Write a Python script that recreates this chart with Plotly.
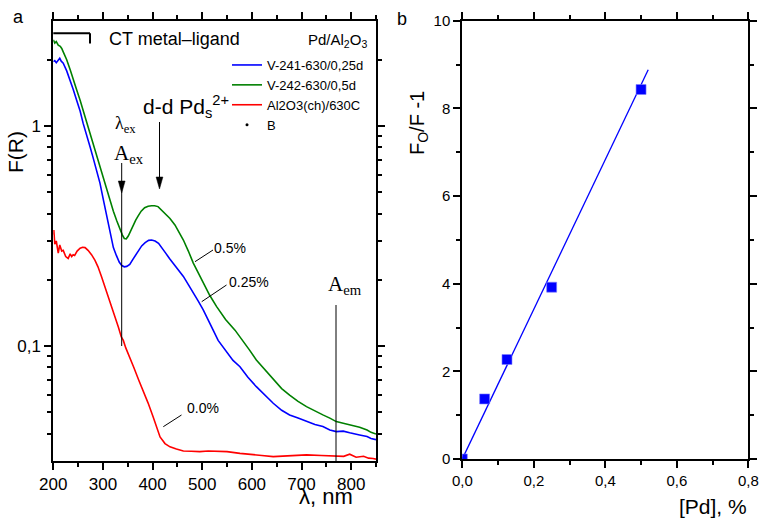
import plotly.graph_objects as go

# ---------------- data: panel a (diffuse reflectance, F(R)) ----------------
wl_blue = [200, 203, 206, 210, 213, 216, 220, 227, 234, 240, 247, 254, 260, 267, 274, 280, 287, 294,
           301, 307, 314, 321, 327, 333, 338, 343, 348, 354, 360, 366, 372, 378, 385, 392, 398, 405,
           412, 419, 426, 434, 442, 452, 462, 472, 482, 492, 502, 512, 522, 532, 547, 562, 576, 592,
           609, 626, 643, 660, 676, 693, 710, 727, 743, 757, 770, 784, 797, 807, 817, 832, 840, 850]
f_blue = [1.96, 1.98, 1.94, 2.0, 2.03, 1.97, 1.93, 1.78, 1.62, 1.47, 1.31, 1.17, 1.03, 0.92, 0.805,
          0.72, 0.63, 0.55, 0.46, 0.40, 0.335, 0.28, 0.258, 0.24, 0.232, 0.229, 0.230, 0.235, 0.247,
          0.258, 0.272, 0.285, 0.295, 0.302, 0.303, 0.300, 0.293, 0.280, 0.265, 0.25, 0.236, 0.22,
          0.207, 0.19, 0.173, 0.16, 0.146, 0.132, 0.118, 0.106, 0.095, 0.086, 0.0805, 0.072, 0.0653,
          0.060, 0.0549, 0.051, 0.0486, 0.047, 0.0453, 0.044, 0.043, 0.0415, 0.0408, 0.041, 0.0403,
          0.040, 0.0394, 0.0388, 0.038, 0.0375]

wl_green = [200, 203, 206, 210, 214, 217, 220, 227, 234, 240, 247, 254, 260, 267, 274, 280, 287, 294,
            301, 307, 314, 321, 328, 334, 339, 343, 347, 351, 356, 361, 366, 371, 377, 384, 391, 398,
            404, 411, 418, 426, 435, 445, 453, 462, 472, 482, 492, 502, 515, 529, 547, 566, 582, 595,
            609, 626, 643, 660, 676, 693, 710, 727, 743, 757, 770, 784, 797, 807, 817, 832, 840, 850]
f_green = [2.46, 2.38, 2.42, 2.33, 2.30, 2.25, 2.17, 2.0, 1.80, 1.62, 1.46, 1.31, 1.18, 1.05, 0.926,
           0.82, 0.725, 0.64, 0.567, 0.51, 0.46, 0.41, 0.37, 0.34, 0.32, 0.308, 0.307, 0.316, 0.335,
           0.355, 0.373, 0.39, 0.41, 0.425, 0.432, 0.434, 0.434, 0.430, 0.415, 0.40, 0.38, 0.355, 0.33,
           0.303, 0.27, 0.238, 0.215, 0.193, 0.17, 0.151, 0.132, 0.118, 0.106, 0.096, 0.0863, 0.078,
           0.070, 0.064, 0.0598, 0.056, 0.053, 0.0505, 0.0486, 0.047, 0.0453, 0.0445, 0.0438, 0.0432,
           0.0427, 0.0415, 0.0405, 0.0398]

wl_red = [200, 201, 203, 206, 210, 213, 217, 220, 225, 230, 234, 237, 240, 243, 248, 254, 259, 264,
          270, 277, 284, 290, 297, 304, 311, 318, 324, 331, 337, 341, 346, 354, 362, 372, 381, 391,
          401, 408, 415, 425, 435, 448, 462, 478, 495, 512, 529, 550, 576, 600, 620, 643, 665, 690,
          710, 740, 770, 785, 797, 810, 825, 835, 844, 850]
f_red = [0.32, 0.336, 0.29, 0.30, 0.264, 0.288, 0.27, 0.272, 0.255, 0.25, 0.262, 0.255, 0.26, 0.258,
         0.27, 0.278, 0.281, 0.28, 0.272, 0.26, 0.245, 0.229, 0.207, 0.186, 0.168, 0.151, 0.137, 0.122,
         0.11, 0.106, 0.098, 0.0893, 0.08, 0.07, 0.063, 0.055, 0.0477, 0.043, 0.0386, 0.036, 0.0348,
         0.034, 0.0333, 0.0332, 0.0331, 0.0333, 0.0333, 0.0331, 0.0325, 0.0322, 0.0318, 0.0314, 0.0316,
         0.0318, 0.032, 0.0318, 0.0317, 0.0315, 0.0322, 0.0312, 0.0315, 0.0309, 0.0308, 0.0306]

series_names = ["V-241-630/0,25d", "V-242-630/0,5d", "Al2O3(ch)/630C", "B"]

# ---------------- data: panel b (Stern-Volmer) ----------------
pd_conc = [0.0, 0.0625, 0.125, 0.25, 0.5]
fo_f = [0.0, 1.37, 2.27, 3.92, 8.43]
fit_x = [0.0, 0.52]
fit_y = [0.0, 8.88]

left_xticks = [200, 300, 400, 500, 600, 700, 800]
left_yticks = [0.1, 1]
left_yticklabels = ["0,1", "1"]
right_xticks = [0.0, 0.2, 0.4, 0.6, 0.8]
right_xticklabels = ["0,0", "0,2", "0,4", "0,6", "0,8"]
right_yticks = [0, 2, 4, 6, 8, 10]

W, H = 760, 518
def PX(x):
    return x / W
def PY(y):
    return 1 - y / H

ARIAL = "Arial, Liberation Sans, sans-serif"
TIMES = "Times New Roman, Liberation Serif, serif"
BLUE, GREEN, RED = "#0000FF", "#008000", "#FF0000"

fig = go.Figure()
fig.add_trace(go.Scatter(x=wl_blue, y=f_blue, mode="lines", name=series_names[0],
                         line=dict(color=BLUE, width=1.6), xaxis="x", yaxis="y"))
fig.add_trace(go.Scatter(x=wl_green, y=f_green, mode="lines", name=series_names[1],
                         line=dict(color=GREEN, width=1.6), xaxis="x", yaxis="y"))
fig.add_trace(go.Scatter(x=wl_red, y=f_red, mode="lines", name=series_names[2],
                         line=dict(color=RED, width=1.6), xaxis="x", yaxis="y"))
fig.add_trace(go.Scatter(x=[None], y=[None], mode="markers", name=series_names[3],
                         marker=dict(color="black", size=3), xaxis="x", yaxis="y"))

fig.add_trace(go.Scatter(x=fit_x, y=fit_y, mode="lines", showlegend=False,
                         line=dict(color=BLUE, width=1.3), xaxis="x2", yaxis="y2"))
fig.add_trace(go.Scatter(x=pd_conc, y=fo_f, mode="markers", showlegend=False,
                         marker=dict(symbol="square", size=10, color=BLUE,
                                     line=dict(color="#8080ff", width=0.6)),
                         xaxis="x2", yaxis="y2"))

axis_common = dict(showline=True, linecolor="black", linewidth=2, ticks="outside", mirror="ticks",
                   tickcolor="black", tickwidth=1.5, ticklen=7, showgrid=False, zeroline=False,
                   automargin=False,
                   tickfont=dict(family=ARIAL, size=17, color="black"))

minor_log = [0.04, 0.05, 0.06, 0.07, 0.08, 0.09, 0.2, 0.3, 0.4, 0.5, 0.6, 0.7, 0.8, 0.9, 2]

fig.update_layout(
    width=W, height=H, autosize=False,
    margin=dict(l=0, r=0, t=0, b=0, pad=0, autoexpand=False),
    paper_bgcolor="white", plot_bgcolor="white",
    font=dict(family=ARIAL, color="black"),
    xaxis=dict(domain=[PX(53.3), PX(376)], range=[200, 850], tickmode="array",
               tickvals=left_xticks, anchor="y",
               minor=dict(dtick=50, tick0=200, ticks="outside", ticklen=4, tickwidth=1.5,
                          tickcolor="black"),
               **axis_common),
    yaxis=dict(domain=[PY(461), PY(21)], type="log", range=[-1.5229, 0.4771], tickmode="array",
               tickvals=left_yticks, ticktext=left_yticklabels, anchor="x",
               minor=dict(tickmode="array", tickvals=minor_log, ticks="outside", ticklen=4,
                          tickwidth=1.5, tickcolor="black"),
               **axis_common),
    xaxis2=dict(domain=[PX(462.3), PX(748.3)], range=[0, 0.8], tickmode="array",
                tickvals=right_xticks, ticktext=right_xticklabels, anchor="y2",
                minor=dict(dtick=0.1, tick0=0, ticks="outside", ticklen=4, tickwidth=1.5,
                           tickcolor="black"),
                **{**axis_common, "tickfont": dict(family=ARIAL, size=15, color="black")}),
    yaxis2=dict(domain=[PY(459), PY(20.7)], range=[0, 10], tickmode="array",
                tickvals=right_yticks, anchor="x2",
                minor=dict(dtick=1, tick0=0, ticks="outside", ticklen=4, tickwidth=1.5,
                           tickcolor="black"),
                **{**axis_common, "tickfont": dict(family=ARIAL, size=15, color="black")}),
    legend=dict(x=PX(227), y=PY(50), xanchor="left", yanchor="top",
                bgcolor="rgba(0,0,0,0)", borderwidth=0,
                font=dict(family=ARIAL, size=13, color="black"), itemwidth=30,
                tracegroupgap=0),
    showlegend=True,
)

ann = []
def text(x, y, s, size, family=ARIAL, xanchor="left", yanchor="middle", angle=0):
    ann.append(dict(x=PX(x), y=PY(y), xref="paper", yref="paper", text=s, showarrow=False,
                    xanchor=xanchor, yanchor=yanchor, textangle=angle,
                    font=dict(family=family, size=size, color="black")))

text(18, 17, "a", 18, xanchor="center")
text(402, 19, "b", 18, xanchor="center")
text(107, 39, "CT metal\u2013ligand", 18)
text(306, 41, "Pd/Al<sub>2</sub>O<sub>3</sub>", 15)
text(113, 125, "\u03bb<sub>ex</sub>", 18, family=TIMES)
text(141, 106, "d-d Pd<sub>s</sub><sup>2+</sup>", 21)
text(112, 154, "A<sub>ex</sub>", 21, family=TIMES)
text(326, 285, "A<sub>em</sub>", 21, family=TIMES)
text(212, 248, "0.5%", 14)
text(227, 282, "0.25%", 14)
text(185, 408, "0.0%", 14)
text(297, 496, "\u03bb, nm", 22)
text(15, 152, "F(R)", 21, xanchor="center", angle=-90)
text(419, 123, "F<sub>O</sub>/F -1", 20, xanchor="center", angle=-90)
text(677, 506, "[Pd], %", 21)

shapes = []
def seg(x0, y0, x1, y1, w=1.0):
    shapes.append(dict(type="line", xref="paper", yref="paper", x0=PX(x0), y0=PY(y0),
                       x1=PX(x1), y1=PY(y1), line=dict(color="black", width=w)))
def tri(xc, ytip, length, half):
    path = "M{},{} L{},{} L{},{} Z".format(PX(xc), PY(ytip), PX(xc - half), PY(ytip - length),
                                           PX(xc + half), PY(ytip - length))
    shapes.append(dict(type="path", xref="paper", yref="paper", path=path,
                       fillcolor="black", line=dict(color="black", width=0.5)))

# CT bracket
seg(53.3, 33.3, 90, 33.3, 2)
seg(90, 33.3, 90, 43.5, 2)
# A_ex line with arrowhead
seg(121.7, 163, 121.7, 346, 1)
tri(121.7, 193, 12, 3.4)
# d-d arrow
seg(159.5, 122, 159.5, 180, 1)
tri(159.5, 189, 12, 3.4)
# A_em line
seg(336, 305, 336, 461, 1)
# leader lines
seg(195, 261.7, 213, 250, 1)
seg(201.7, 301.7, 226.5, 285, 1)
seg(163.3, 426.7, 181.5, 415, 1)

fig.update_layout(annotations=ann, shapes=shapes)

fig.write_html("out.html", config={"displayModeBar": False},
               post_script="document.body.style.margin='0px';document.body.style.padding='0px';")
